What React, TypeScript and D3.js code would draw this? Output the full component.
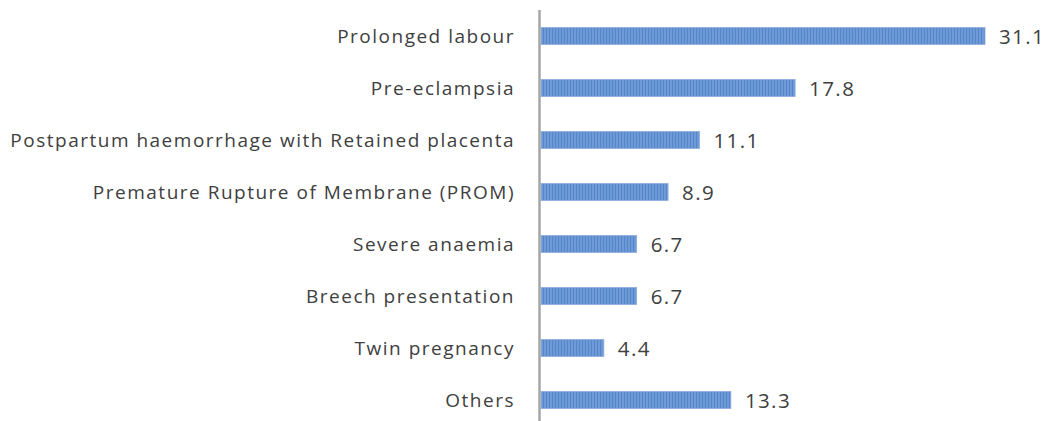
import React from "react";
import * as d3 from "d3";

const width = 1050;
const height = 421;
const margin = { top: 10, right: 40, bottom: -5, left: 541 };

const causes = [
  "Prolonged labour",
  "Pre-eclampsia",
  "Postpartum haemorrhage with Retained placenta",
  "Premature Rupture of Membrane (PROM)",
  "Severe anaemia",
  "Breech presentation",
  "Twin pregnancy",
  "Others",
];
const percents = [31.1, 17.8, 11.1, 8.9, 6.7, 6.7, 4.4, 13.3];

const xScale = d3.scaleLinear([0, 31.1], [margin.left, 985]);
const yScale = d3
  .scaleBand<string>(causes, [margin.top, height - margin.bottom])
  .paddingInner(0.67)
  .paddingOuter(0.335);

const labelFont = "'Open Sans', 'Liberation Sans', Arial, sans-serif";

export default function App() {
  return (
    <svg width={width} height={height} style={{ display: "block", position: "absolute", left: 0, top: 0 }}>
      <defs>
        <pattern id="stripes" width="3" height="4" patternUnits="userSpaceOnUse">
          <rect width="3" height="4" fill="#6f9ad8" />
          <rect width="1" height="4" fill="#5684c8" />
        </pattern>
      </defs>
      <rect width={width} height={height} fill="#fff" />
      {causes.map((c, i) => {
        const y = yScale(c)!;
        const bh = yScale.bandwidth();
        const x1 = xScale(percents[i]);
        return (
          <g key={c}>
            <rect
              x={margin.left}
              y={y}
              width={x1 - margin.left}
              height={bh}
              fill="url(#stripes)"
              stroke="#8fb0e0"
              strokeWidth={0.8}
            />
            <text
              x={515}
              y={y + bh / 2}
              dy="0.36em"
              textAnchor="end"
              fontFamily={labelFont}
              fontSize={19}
              letterSpacing={1.5}
              fill="#404040"
            >
              {c}
            </text>
            <text
              x={x1 + 14}
              y={y + bh / 2}
              dy="0.38em"
              fontFamily={labelFont}
              fontSize={20.5}
              letterSpacing={1.4}
              fill="#404040"
            >
              {d3.format(".1f")(percents[i])}
            </text>
          </g>
        );
      })}
      <line x1={539.5} x2={539.5} y1={10} y2={height} stroke="#a6a6a6" strokeWidth={2.5} />
    </svg>
  );
}
